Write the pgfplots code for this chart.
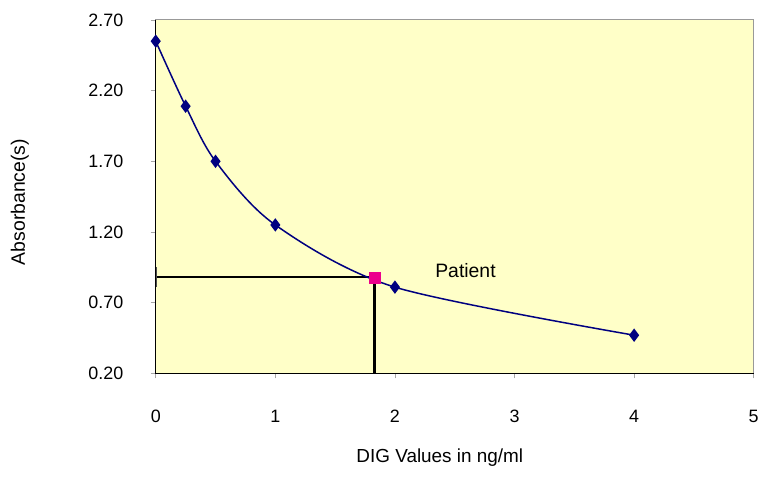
\documentclass[border=0pt]{standalone}
\usepackage{pgfplots}
\pgfplotsset{compat=1.18}
\usepackage{fontspec}
\setmainfont{Liberation Sans}
\usetikzlibrary{calc}
\definecolor{bgyellow}{RGB}{255,255,200}
\definecolor{navyc}{RGB}{0,0,128}
\begin{document}
\begin{tikzpicture}
\begin{axis}[
  scale only axis,
  width=599bp, height=354bp,
  xmin=0, xmax=5, ymin=0.2, ymax=2.7,
  xtick={0,1,2,3,4,5},
  ytick={0.2,0.7,1.2,1.7,2.2,2.7},
  axis background/.style={fill=bgyellow},
  axis line style={draw=gray!80, line width=1bp},
  tick style={draw=gray!70, line width=0.8bp},
  tick align=outside,
  major tick length=5bp,
  xtick pos=bottom, ytick pos=left,
  /pgf/number format/assume math mode=true,
  yticklabel={\pgfmathprintnumber[fixed,fixed zerofill,precision=2]{\tick}},
  xticklabel={\pgfmathprintnumber{\tick}},
  ticklabel style={font=\fontsize{18}{20}\selectfont},
  yticklabel style={anchor=east, xshift=-24bp},
  xticklabel style={anchor=north, yshift=-28bp},
  xlabel={DIG Values in ng/ml},
  ylabel={Absorbance(s)},
  xlabel style={font=\fontsize{19}{22}\selectfont, at={(rel axis cs:0.475,0)}, anchor=north, yshift=-72bp},
  ylabel style={font=\fontsize{19.5}{22}\selectfont, at={(rel axis cs:0,0.485)}, anchor=center, rotate=0, yshift=136bp, xshift=0bp},
  clip=false,
]
% patient reading lines
\addplot[black, line width=2.5bp, forget plot] coordinates {(0,0.88) (1.83,0.88)};
\addplot[gray!60!black, line width=1bp, forget plot] coordinates {(0.01,0.81) (0.01,0.95)};
\addplot[black, line width=3.5bp, forget plot] coordinates {(1.83,0.2) (1.83,0.88)};
% standard curve
\addplot[navyc, line width=1.5bp, smooth, tension=0.5,
  mark=diamond*, mark size=5.5bp, mark options={fill=navyc, draw=navyc}]
  coordinates {(0,2.55) (0.25,2.09) (0.5,1.70) (1,1.25) (2,0.81) (4,0.47)};
% patient point
\addplot[only marks, mark=square*, mark size=5.5bp, color=magenta, mark options={fill=magenta, draw=magenta}]
  coordinates {(1.83,0.88)};
\node[font=\fontsize{19.5}{22}\selectfont] at (axis cs:2.59,0.925) {Patient};
% black left and bottom axis lines
\draw[black, line width=1.3bp] (rel axis cs:0,1) -- (rel axis cs:0,0) -- (rel axis cs:1,0);
\coordinate (bl) at (rel axis cs:0,0);
\coordinate (tr) at (rel axis cs:1,1);
\end{axis}
\path ($(bl)+(-156bp,-105bp)$) rectangle ($(tr)+(7bp,20bp)$);
\end{tikzpicture}
\end{document}
